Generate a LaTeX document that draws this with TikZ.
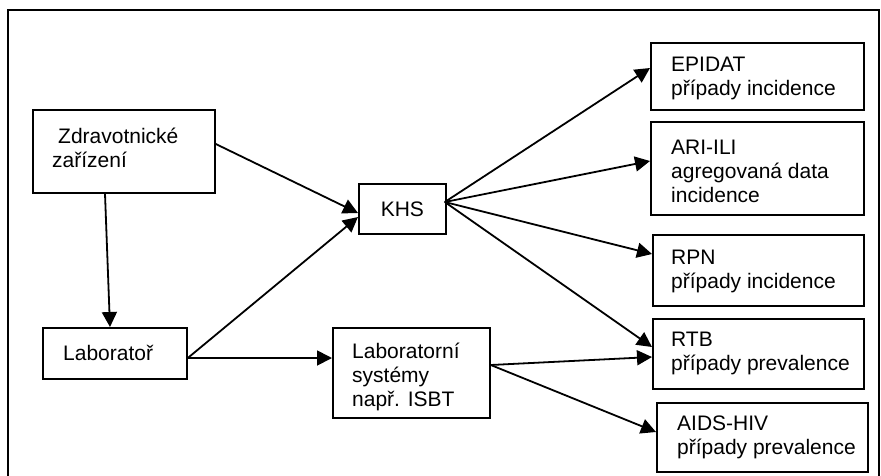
\documentclass[tikz,border=0pt]{standalone}
\usepackage{fontspec}
\setmainfont{Liberation Sans}
\usetikzlibrary{arrows.meta,calc}
\tikzset{
  box/.style={draw=black, line width=1.8pt, inner sep=0pt, anchor=north west},
  txt/.style={anchor=west, inner sep=0pt, align=left, font=\fontsize{21}{24}\selectfont},
  conn/.style={line width=1.8pt, -{Triangle[length=15pt,width=15pt]}},
}
\begin{document}
\begin{tikzpicture}[x=1pt,y=-1pt]
\useasboundingbox (0,0) rectangle (881,475);
% outer frame
\draw[line width=2pt] (8,476) -- (8,10) -- (879,10) -- (879,476);
% boxes
\node[box, minimum width=182pt, minimum height=83pt] (zdrav) at (32,109) {};
\node[box, minimum width=87pt, minimum height=50pt] (khs) at (358,183) {};
\node[box, minimum width=144pt, minimum height=51pt] (lab) at (42,327) {};
\node[box, minimum width=157pt, minimum height=90pt] (labsys) at (332,327) {};
\node[box, minimum width=213pt, minimum height=67pt] (epidat) at (650,42) {};
\node[box, minimum width=213pt, minimum height=93pt] (ari) at (650,121) {};
\node[box, minimum width=211pt, minimum height=71pt] (rpn) at (652,234) {};
\node[box, minimum width=211pt, minimum height=70pt] (rtb) at (652,318) {};
\node[box, minimum width=211pt, minimum height=69pt] (aids) at (656,402) {};
% texts
\node[txt] (tzdrav) at ($(zdrav.west)+(20,-4)$) {\hspace{6pt}Zdravotnické\\zařízení};
\node[txt, anchor=center] (tkhs) at (khs.center) {KHS};
\node[txt] (tlab) at ($(lab.west)+(21,0)$) {Laboratoř};
\node[txt] (tlabsys) at ($(labsys.west)+(20,4)$) {Laboratorní\\systémy\\např. ISBT};
\node[txt] (tepidat) at ($(epidat.west)+(21,2)$) {EPIDAT\\případy incidence};
\node[txt] (tari) at ($(ari.west)+(21,3)$) {ARI-ILI\\agregovaná data\\incidence};
\node[txt] (trpn) at ($(rpn.west)+(19,1)$) {RPN\\případy incidence};
\node[txt] (trtb) at ($(rtb.west)+(19,0)$) {RTB\\případy prevalence};
\node[txt] (taids) at ($(aids.west)+(21,0)$) {AIDS-HIV\\případy prevalence};
% connectors
\draw[conn] ($(zdrav.north east)+(0,35)$) -- ($(khs.north west)+(0,30)$);
\draw[conn] ($(lab.north east)+(0,31)$) -- ($(khs.north west)+(0,34)$);
\draw[conn] ($(zdrav.south west)+(73,0)$) -- ($(lab.north west)+(68,0)$);
\draw[conn] ($(lab.north east)+(0,31)$) -- ($(labsys.north west)+(0,31)$);
\draw[conn] ($(khs.north east)+(-2,19)$) -- ($(epidat.north west)+(0,26)$);
\draw[conn] ($(khs.north east)+(-2,19)$) -- ($(ari.north west)+(0,40)$);
\draw[conn] ($(khs.north east)+(-2,19)$) -- ($(rpn.north west)+(0,20)$);
\draw[conn] ($(khs.north east)+(-2,19)$) -- ($(rtb.north west)+(0,29)$);
\draw[conn] ($(labsys.north east)+(0,38)$) -- ($(rtb.north west)+(0,39)$);
\draw[conn] ($(labsys.north east)+(0,38)$) -- ($(aids.north west)+(0,30)$);
\end{tikzpicture}
\end{document}
